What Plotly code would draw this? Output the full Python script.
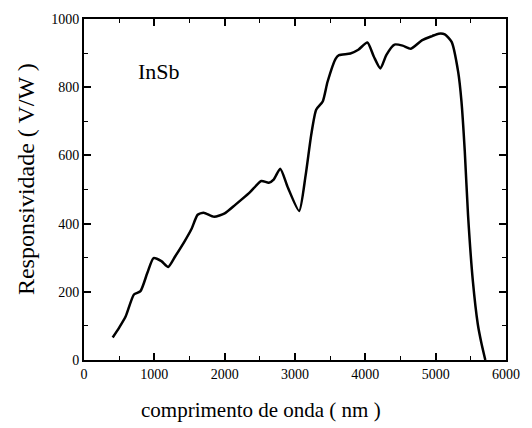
import plotly.graph_objects as go

wavelength = [408, 500, 595, 710, 803, 900, 989, 1100, 1198, 1300, 1430, 1530, 1616, 1700, 1850, 2000,
              2150, 2350, 2521, 2627, 2700, 2790, 2900, 3059, 3150, 3231, 3301, 3394, 3463, 3579, 3626,
              3788, 3900, 4029, 4120, 4214, 4300, 4415, 4530, 4647, 4809, 4950, 5042, 5130, 5227, 5320,
              5367, 5414, 5460, 5529, 5599, 5650, 5706]
resp = [66, 95, 129, 192, 202, 255, 299, 290, 273, 305, 348, 385, 426, 432, 420, 430,
        455, 490, 525, 520, 530, 561, 505, 437, 540, 661, 734, 758, 816, 884, 894,
        899, 910, 931, 890, 855, 895, 925, 922, 913, 938, 950, 957, 955, 933, 845,
        758, 612, 426, 231, 105, 50, 0]

font = "'Liberation Serif', 'Times New Roman', Times, serif"

fig = go.Figure()
fig.add_trace(go.Scatter(x=wavelength, y=resp, mode="lines",
                         line=dict(color="black", width=2.5, shape="spline", smoothing=0.6),
                         showlegend=False))

axis_common = dict(showline=True, linecolor="black", linewidth=2, mirror="ticks",
                   ticks="inside", ticklen=7, tickwidth=1.5, tickcolor="black",
                   showgrid=False, zeroline=False,
                   tickfont=dict(family=font, size=14, color="black"))

fig.update_xaxes(range=[0, 6000], dtick=1000, tick0=0,
                 minor=dict(ticks="inside", ticklen=4, dtick=500, tickcolor="black", tickwidth=1.2),
                 **axis_common)
fig.update_yaxes(range=[0, 1000], dtick=200, tick0=0,
                 minor=dict(ticks="inside", ticklen=4, dtick=100, tickcolor="black", tickwidth=1.2),
                 **axis_common)

fig.add_annotation(x=0.42, y=-0.146, xref="paper", yref="paper", text="comprimento de onda ( nm )",
                   showarrow=False, xanchor="center", yanchor="middle",
                   font=dict(family=font, size=21, color="black"))
fig.add_annotation(x=-0.137, y=0.531, xref="paper", yref="paper", text="Responsividade ( V/W )",
                   showarrow=False, xanchor="center", yanchor="middle", textangle=-90,
                   font=dict(family=font, size=24, color="black"))
fig.add_annotation(x=0.123, y=0.845, xref="paper", yref="paper", text="InSb", showarrow=False,
                   xanchor="left", yanchor="middle", font=dict(family=font, size=22, color="black"))

fig.update_layout(width=532, height=428, margin=dict(l=84, r=17, t=17, b=68),
                  plot_bgcolor="white", paper_bgcolor="white",
                  font=dict(family=font, color="black"))

fig.write_html("out.html")
